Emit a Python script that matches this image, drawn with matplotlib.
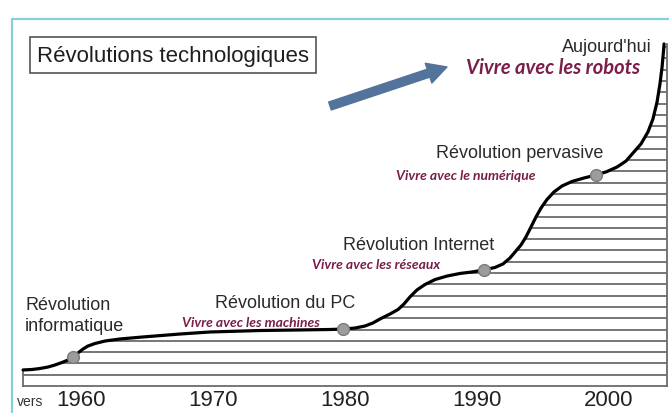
import numpy as np
import matplotlib
matplotlib.use("Agg")
import matplotlib.pyplot as plt
from matplotlib.patches import Polygon
from matplotlib.collections import LineCollection
from matplotlib.lines import Line2D

# ---------------- data ----------------
curve_years = [1955.61, 1956.29, 1956.89, 1957.50, 1958.03, 1958.56, 1959.02,
               1959.39, 1959.77, 1960.15, 1960.53, 1961.06, 1961.82, 1962.95,
               1964.70, 1967.50, 1969.77, 1973.56, 1976.59, 1978.86, 1979.85,
               1980.76, 1981.52, 1982.12, 1982.65, 1983.41, 1984.02, 1984.47,
               1984.92, 1985.45, 1986.06, 1986.82, 1987.73, 1988.71, 1989.62,
               1990.53, 1991.36, 1991.97, 1992.50, 1992.95, 1993.33, 1993.71,
               1994.09, 1994.47, 1994.85, 1995.30, 1995.83, 1996.44, 1997.20,
               1998.11, 1999.02, 1999.85, 2000.61, 2001.29, 2001.82, 2002.42,
               2002.95, 2003.33, 2003.64, 2003.86, 2004.02, 2004.13, 2004.17]
curve_levels = [1.42, 1.46, 1.55, 1.68, 1.86, 2.08, 2.30,
                2.57, 2.92, 3.27, 3.54, 3.76, 3.98, 4.16,
                4.34, 4.60, 4.78, 4.91, 4.96, 5.00, 5.04,
                5.13, 5.31, 5.58, 5.93, 6.37, 6.77, 7.26,
                7.88, 8.50, 8.98, 9.42, 9.73, 9.96, 10.09,
                10.27, 10.49, 10.80, 11.33, 11.95, 12.48, 13.19,
                14.07, 14.96, 15.75, 16.50, 17.17, 17.70, 18.10,
                18.41, 18.67, 18.98, 19.38, 19.91, 20.62, 21.42,
                22.48, 23.63, 25.13, 26.73, 28.23, 29.65, 30.27]

event_years = [1959.39, 1979.85, 1990.53, 1999.02]
event_levels = [2.57, 5.04, 10.27, 18.67]
event_names = ["Révolution\ninformatique", "Révolution du PC",
               "Révolution Internet", "Révolution pervasive"]
event_mottos = ["", "Vivre avec les machines", "Vivre avec les réseaux",
                "Vivre avec le numérique"]

tick_years = [1960, 1970, 1980, 1990, 2000]
tick_labels = ["1960", "1970", "1980", "1990", "2000"]

hatch_levels = list(range(1, 31))
x_left, x_right = 1955.6, 2004.4
top_level = 30.3

title = "Révolutions technologiques"
today_label = "Aujourd'hui"
today_motto = "Vivre avec les robots"

# ---------------- layout helpers (pixel -> data) ----------------
W, H = 669, 414
def PX(px):
    return 1960 + (px - 81) / 13.2
def PY(py):
    return (387 - py) / 11.3

fig = plt.figure(figsize=(W / 100, H / 100), dpi=100)
ax = fig.add_axes([0, 0, 1, 1])
ax.set_xlim(PX(0), PX(W))
ax.set_ylim(PY(H), PY(0))
ax.axis("off")

hatch_col = "#6b6b6b"
motto_col = "#7a1f4a"
text_col = "#2a2a2a"

# frame (cyan)
ax.add_line(Line2D([12 / W, 12 / W, 1], [0, 1 - 20 / H, 1 - 20 / H],
                   transform=ax.transAxes, color="#86cfe0", lw=1.6))

# hatched region clipped by the curve
poly_pts = [(x_left, 0)] + list(zip(curve_years, curve_levels)) + \
           [(x_right, top_level), (x_right, 0)]
clip = Polygon(poly_pts, closed=True, facecolor="none", edgecolor="none",
               transform=ax.transData)
ax.add_patch(clip)
segs = [[(x_left, lv), (x_right, lv)] for lv in hatch_levels]
lc = LineCollection(segs, colors=hatch_col, linewidths=1.3)
ax.add_collection(lc)
lc.set_clip_path(clip)

# outline of hatched block
ax.plot([x_left, x_right], [0, 0], color=hatch_col, lw=1.3)
ax.plot([x_left, x_left], [0, curve_levels[0]], color=hatch_col, lw=1.3)
ax.plot([x_right, x_right], [0, top_level], color=hatch_col, lw=1.3)

# main curve
ax.plot(curve_years, curve_levels, color="black", lw=2.3,
        solid_capstyle="round", solid_joinstyle="round", zorder=5)

# event dots
ax.plot(event_years, event_levels, "o", ms=8.5, mfc="#9c9c9c",
        mec="#7a7a7a", mew=1.0, zorder=6)

# tick labels
for ty, tl in zip(tick_years, tick_labels):
    ax.text(ty, PY(406), tl, ha="center", va="baseline", fontsize=16,
            color="#222222", family="Liberation Sans")
ax.text(PX(17), PY(406), "vers", ha="left", va="baseline", fontsize=10,
        color="#333333", family="Liberation Sans")

# event labels
name_pos = [(25, 316, "left"), (215, 303, "left"), (343, 245, "left"),
            (436, 153, "left")]
motto_pos = [None, (320, 323), (440, 265), (535, 176)]
for name, motto, (nx, ny, ha), mp in zip(event_names, event_mottos,
                                         name_pos, motto_pos):
    ax.text(PX(nx), PY(ny), name, ha=ha, va="center", fontsize=13,
            color=text_col, family="Liberation Sans", linespacing=1.3)
    if motto:
        ax.text(PX(mp[0]), PY(mp[1]), motto, ha="right", va="center",
                fontsize=10, color=motto_col, family="Lato",
                style="italic", weight="bold")

# today
ax.text(PX(652), PY(47), today_label, ha="right", va="center", fontsize=13,
        color=text_col, family="Liberation Sans")
ax.text(PX(640), PY(68), today_motto, ha="right", va="center", fontsize=14.5,
        color=motto_col, family="Lato", style="italic", weight="bold")

# title box
ax.text(PX(37), PY(56), title, ha="left", va="center", fontsize=16,
        color="#1e1e1e", family="Liberation Sans",
        bbox=dict(boxstyle="square,pad=0.33", fc="white", ec="#555555", lw=1.2))

# arrow
ax.annotate("", xy=(447 / W, 1 - 68 / H), xytext=(330 / W, 1 - 107 / H),
            xycoords="axes fraction", textcoords="axes fraction",
            arrowprops=dict(arrowstyle="simple,head_length=1.4,head_width=1.5,tail_width=0.6",
                            color="#53739a", shrinkA=0, shrinkB=0))

fig.savefig("out.png", dpi=100, facecolor="white")
